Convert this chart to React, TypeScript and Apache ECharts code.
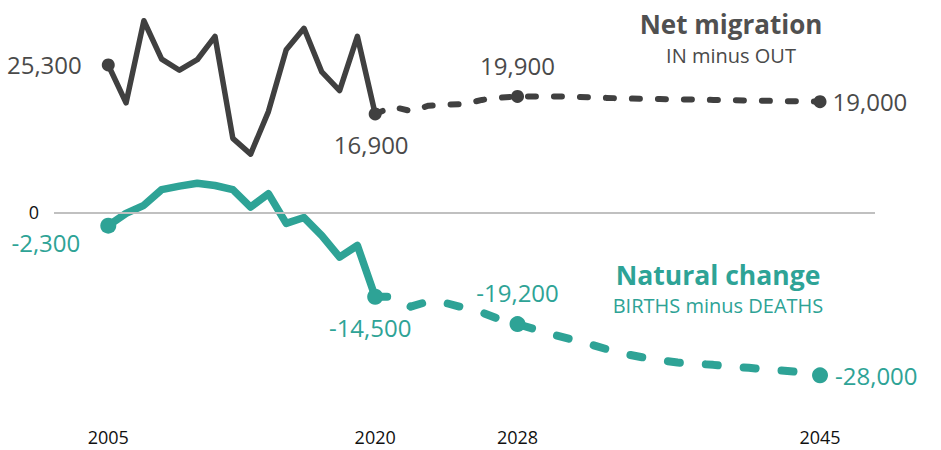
import React, { useEffect, useRef } from "react";
import * as echarts from "echarts";

// ---- data ----
const histYears = [2005, 2006, 2007, 2008, 2009, 2010, 2011, 2012, 2013, 2014, 2015, 2016, 2017, 2018, 2019, 2020];
const netHist = [25300, 18800, 32900, 26300, 24400, 26200, 30200, 12700, 10000, 17300, 27900, 31600, 24100, 20900, 30200, 16900];
const natHist = [-2300, -200, 1200, 3900, 4500, 5000, 4600, 3900, 900, 3200, -1900, -900, -4000, -7700, -5700, -14500];

const projYears = [2020, 2021, 2022, 2023, 2024, 2025, 2026, 2027, 2028, 2029, 2030, 2031, 2032, 2033, 2034, 2035, 2036, 2037, 2038, 2039, 2040, 2041, 2042, 2043, 2044, 2045];
const netProj = [16900, 18100, 17400, 18300, 18500, 18600, 19300, 19700, 19900, 19900, 19900, 19850, 19750, 19650, 19550, 19500, 19450, 19400, 19350, 19300, 19250, 19200, 19150, 19100, 19050, 19000];
const natProj = [-14500, -14500, -16200, -15300, -15600, -16400, -17200, -18400, -19200, -20100, -21000, -21800, -22600, -23500, -24300, -24900, -25400, -25800, -26000, -26200, -26500, -26700, -27000, -27200, -27500, -28000];

const xTickLabels = [2005, 2020, 2028, 2045];
const yTickLabels = [0];

const NET_COLOR = "#404040";
const NET_TEXT = "#4a4a4a";
const NAT_COLOR = "#2ea396";
const FONT = "'Open Sans', 'Noto Sans', sans-serif";

type LabelCfg = { position: any; distance: number; offset?: [number, number] };

function buildData(xs: number[], ys: number[], size: number, color: string, labels: Record<number, LabelCfg>) {
  return xs.map((x, i) => {
    const cfg = labels[x];
    if (!cfg) return { value: [x, ys[i]] };
    return {
      value: [x, ys[i]],
      symbol: "circle",
      symbolSize: size,
      label: {
        show: true,
        position: cfg.position,
        distance: cfg.distance,
        offset: cfg.offset || [0, 0],
        color,
        fontSize: 24,
        fontFamily: FONT,
        formatter: (p: any) => Number(p.value[1]).toLocaleString("en-US"),
      },
    };
  });
}

export default function App() {
  const ref = useRef<HTMLDivElement>(null);
  useEffect(() => {
    document.body.style.margin = "0";
    const chart = echarts.init(ref.current!, null, { renderer: "svg" });
    const option: any = {
      animation: false,
      textStyle: { fontFamily: FONT },
      grid: { left: 54, right: 66, top: 8.5, bottom: 33.9, containLabel: false },
      xAxis: {
        type: "value",
        min: 2001.95,
        max: 2048.09,
        axisLine: { show: false },
        axisTick: { show: false },
        splitLine: { show: false },
        axisLabel: {
          customValues: xTickLabels,
          color: "#111",
          fontSize: 18,
          margin: 12,
          fontFamily: FONT,
          formatter: (v: number) => String(v),
        },
      },
      yAxis: {
        type: "value",
        min: -35000,
        max: 35000,
        axisLine: { show: false },
        axisTick: { show: false },
        splitLine: { show: false },
        axisLabel: {
          customValues: yTickLabels,
          color: "#111",
          fontSize: 18,
          margin: 15,
          fontFamily: FONT,
          formatter: (v: number) => String(v),
        },
      },
      graphic: [
        { type: "text", x: 731, y: 24, style: { text: "Net migration", fill: "#505050", font: `bold 26px ${FONT}`, textAlign: "center", textVerticalAlign: "middle" } },
        { type: "text", x: 731, y: 55, style: { text: "IN minus OUT", fill: NET_TEXT, font: `20px ${FONT}`, textAlign: "center", textVerticalAlign: "middle" } },
        { type: "text", x: 718, y: 275, style: { text: "Natural change", fill: NAT_COLOR, font: `bold 26.5px ${FONT}`, textAlign: "center", textVerticalAlign: "middle" } },
        { type: "text", x: 718, y: 305, style: { text: "BIRTHS minus DEATHS", fill: NAT_COLOR, font: `20px ${FONT}`, textAlign: "center", textVerticalAlign: "middle" } },
      ],
      series: [
        {
          type: "line",
          name: "zero",
          data: [],
          markLine: {
            silent: true,
            symbol: ["none", "none"],
            label: { show: false },
            lineStyle: { color: "#c0c0c0", width: 2, type: "solid" },
            data: [{ yAxis: 0 }],
          },
          z: 1,
        },
        {
          type: "line",
          name: "Net migration",
          symbol: "none",
          data: buildData(histYears, netHist, 13, NET_TEXT, {
            2005: { position: "left", distance: 20 },
            2020: { position: "bottom", distance: 12, offset: [-4, 0] },
          }),
          lineStyle: { color: NET_COLOR, width: 5.5, join: "round", cap: "round" },
          itemStyle: { color: NET_COLOR },
          z: 3,
        },
        {
          type: "line",
          name: "Net migration projection",
          symbol: "none",
          data: buildData(projYears, netProj, 13, NET_TEXT, {
            2028: { position: "top", distance: 12 },
            2045: { position: "right", distance: 6 },
          }),
          lineStyle: { color: NET_COLOR, width: 6, type: [8, 18], cap: "round", join: "round" },
          itemStyle: { color: NET_COLOR },
          z: 3,
        },
        {
          type: "line",
          name: "Natural change",
          symbol: "none",
          data: buildData(histYears, natHist, 16, NAT_COLOR, {
            2005: { position: "left", distance: 20, offset: [0, 17] },
            2020: { position: "bottom", distance: 11, offset: [-5, 0] },
          }),
          lineStyle: { color: NAT_COLOR, width: 7.5, join: "round", cap: "round" },
          itemStyle: { color: NAT_COLOR },
          z: 2,
        },
        {
          type: "line",
          name: "Natural change projection",
          symbol: "none",
          data: buildData(projYears, natProj, 16, NAT_COLOR, {
            2028: { position: "top", distance: 12 },
            2045: { position: "right", distance: 7 },
          }),
          lineStyle: { color: NAT_COLOR, width: 8, type: [12, 26], cap: "round", join: "round" },
          itemStyle: { color: NAT_COLOR },
          z: 2,
        },
      ],
    };
    chart.setOption(option);
    return () => chart.dispose();
  }, []);
  return <div ref={ref} style={{ width: 941, height: 450 }} />;
}
